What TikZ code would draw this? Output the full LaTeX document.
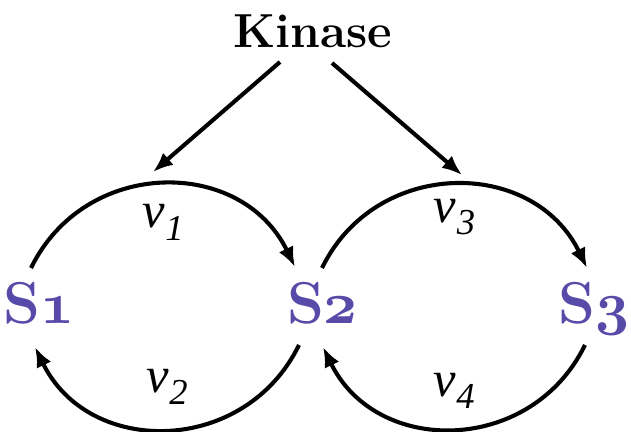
\RequirePackage{fix-cm}
\documentclass[tikz,border=0pt]{standalone}
\usepackage{fontspec}
\usepackage{tikz}
\usetikzlibrary{arrows.meta,calc}
\newfontfamily\ratefont{Liberation Serif}
\definecolor{statecol}{RGB}{87,74,168}
\newcommand{\osnum}[1]{{\usefont{OML}{cmm}{b}{it}#1}}
\newcommand{\rate}[1]{{\ratefont\itshape v\kern0.5pt\raisebox{-0.24em}{\fontsize{26}{28}\selectfont #1}}}
\tikzset{
  enzyme/.style={font=\fontsize{34}{36}\selectfont\bfseries, inner sep=0pt, anchor=base},
  state/.style={font=\fontsize{42}{44}\selectfont\bfseries, text=statecol, inner sep=0pt, anchor=base},
  flow/.style={-{Latex[length=5mm, width=4mm]}, line width=2.9pt},
  lbl/.style={font=\fontsize{36}{40}\selectfont, inner sep=0pt},
}
\begin{document}
\begin{tikzpicture}[x=0.025cm, y=0.025cm]
  \useasboundingbox (0,0) rectangle (631,432);
  % kinase and the three forms
  \node[enzyme] (kin) at (312.5,384) {Kinase};
  \node[state] (s1) at (39,108) {S\osnum{1}};
  \node[state] (s2) at (322.5,108) {S\osnum{2}};
  \node[state] (s3) at (594,108) {S\osnum{3}};
  % where the kinase acts
  \coordinate (p1) at (153,260);
  \coordinate (p3) at (462,257);
  % kinase arrows
  \draw[flow] ($(kin.base)+(-32.5,-14)$) -- (p1);
  \draw[flow] ($(kin.base)+(19.5,-15)$) -- (p3);
  % cycle S1 <-> S2
  \draw[flow] ($(s1.base)+(-8,56)$) to[out=64, in=116, looseness=1.19]
    node[lbl, below=0.45cm]{\rate{1}} ($(s2.base)+(-27.5,57)$);
  \draw[flow] ($(s2.base)+(-23.5,-21)$) to[out=-116, in=-64, looseness=1.19]
    node[lbl, above=0.55cm]{\rate{2}} ($(s1.base)+(-4,-23)$);
  % cycle S2 <-> S3
  \draw[flow] ($(s2.base)+(-0.5,56)$) to[out=64, in=116, looseness=1.19]
    node[lbl, below=0.3cm]{\rate{3}} ($(s3.base)+(-7,56)$);
  \draw[flow] ($(s3.base)+(-9,-21)$) to[out=-116, in=-64, looseness=1.19]
    node[lbl, above=0.45cm]{\rate{4}} ($(s2.base)+(0.5,-23)$);
\end{tikzpicture}
\end{document}
